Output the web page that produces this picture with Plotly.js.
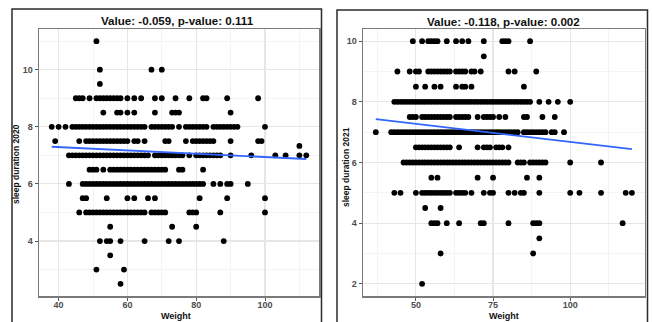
<!DOCTYPE html>
<html>
<head>
<meta charset="utf-8">
<script src="https://cdn.plot.ly/plotly-3.0.1.min.js"></script>
<style>html,body{margin:0;padding:0;background:#fff;}#chart{width:652px;height:322px;}</style>
</head>
<body>
<div id="chart"></div>
<script>
// ---- Panel 1: sleep duration 2020 vs Weight ----
const sleepLevels2020 = [11, 10, 9.5, 9, 8.5, 8, 7.5, 7.33, 7, 6.5, 6, 5.5, 5, 4.5, 4, 3.5, 3, 2.5];
const weightRows2020 = [
  [51],
  [52, 67, 70],
  [52],
  [45, 46, 47, 49, 51, 52, 53, 54, 55, 56, 57, 58, 60, 62, 64, 68, 70, 74, 78, 82, 83, 89, 98],
  [53, 57, 58, 60, 62, 68, 73, 74, 75, 90],
  [38, 40, 42, 44, 45, 46, 47, 48, 49, 50, 51, 52, 53, 54, 55, 56, 57, 58, 59, 60, 61, 62, 63, 64, 65, 67, 68, 69, 70, 71, 72, 73, 75, 77, 78, 79, 80, 81, 82, 83, 85, 86, 87, 88, 89, 90, 91, 92, 100],
  [39, 46, 48, 49, 50, 51, 52, 53, 54, 55, 56, 57, 58, 59, 60, 62, 63, 65, 71, 72, 77, 79, 80, 81, 82, 83, 84, 85, 90, 98, 99],
  [110],
  [43, 44, 45, 46, 47, 48, 49, 50, 51, 52, 53, 54, 55, 56, 57, 58, 59, 60, 61, 62, 63, 64, 65, 66, 68, 69, 70, 71, 72, 73, 74, 75, 76, 78, 80, 81, 82, 83, 84, 85, 86, 87, 90, 96, 103, 106, 110, 112],
  [49, 50, 51, 53, 55, 56, 57, 58, 59, 60, 61, 62, 63, 64, 65, 66, 67, 68, 69, 70, 71, 75, 76, 82],
  [43, 47, 48, 49, 50, 51, 52, 53, 54, 55, 56, 57, 58, 59, 60, 61, 62, 63, 64, 65, 66, 67, 68, 69, 70, 71, 72, 73, 74, 75, 76, 77, 78, 79, 80, 81, 82, 85, 87, 89, 90, 95],
  [47, 48, 54, 60, 62, 66, 68, 81, 89, 100],
  [46, 48, 49, 50, 51, 52, 53, 54, 55, 56, 57, 58, 59, 60, 61, 62, 63, 64, 65, 67, 68, 69, 70, 71, 78, 79, 80, 87, 100],
  [55, 73, 80],
  [52, 54, 55, 58, 65, 72, 75, 88],
  [55],
  [51, 59],
  [58]
];
const fitWeight2020 = [38, 112];
const fitSleep2020 = [7.30, 6.87];
const xTicks2020 = [40, 60, 80, 100];
const yTicks2020 = [4, 6, 8, 10];

// ---- Panel 2: sleep duration 2021 vs Weight ----
const sleepLevels2021 = [10, 9.5, 9, 8.5, 8, 7.5, 7, 6.5, 6, 5.5, 5, 4.5, 4, 3.5, 3, 2];
const weightRows2021 = [
  [49, 52, 54, 55, 56, 57, 60, 63, 65, 67, 72, 78, 79, 80, 87],
  [72],
  [44, 48, 50, 51, 54, 55, 56, 57, 58, 59, 60, 61, 63, 64, 65, 66, 68, 69, 71, 80, 82, 89],
  [50, 53, 56, 58, 63, 65, 66, 68, 85],
  [43, 44, 45, 46, 47, 48, 49, 50, 51, 52, 53, 54, 55, 56, 57, 58, 59, 60, 61, 62, 63, 64, 65, 66, 67, 68, 69, 70, 71, 72, 73, 74, 75, 76, 77, 78, 79, 80, 81, 82, 83, 84, 85, 86, 87, 90, 93, 96, 100],
  [48, 49, 50, 52, 53, 54, 55, 56, 57, 58, 59, 60, 61, 63, 64, 65, 66, 67, 70, 72, 73, 74, 75, 77, 79, 85, 86, 91, 95],
  [37, 42, 43, 44, 45, 46, 47, 48, 49, 50, 51, 52, 53, 54, 55, 56, 57, 58, 59, 60, 61, 62, 63, 64, 65, 66, 67, 68, 69, 70, 71, 72, 73, 74, 75, 76, 77, 78, 79, 80, 81, 82, 83, 85, 86, 87, 88, 89, 90, 91, 92, 94, 95, 98],
  [50, 51, 52, 53, 54, 55, 56, 57, 58, 59, 60, 61, 64, 70, 72, 73, 74, 76, 77, 78, 80],
  [46, 47, 48, 49, 50, 51, 52, 53, 54, 55, 56, 57, 58, 59, 60, 61, 62, 63, 64, 65, 66, 67, 68, 69, 70, 71, 72, 73, 74, 75, 76, 77, 78, 79, 80, 83, 84, 85, 87, 88, 89, 90, 91, 92, 100, 110],
  [55, 57, 70, 75, 86, 90],
  [43, 45, 50, 52, 53, 54, 55, 56, 57, 58, 59, 60, 61, 63, 64, 65, 66, 68, 72, 74, 75, 80, 82, 84, 85, 90, 100, 103, 110, 118, 120],
  [53, 58],
  [55, 56, 57, 60, 64, 71, 72, 80, 88, 89, 90, 117],
  [90],
  [58, 88],
  [52]
];
const fitWeight2021 = [37, 120];
const fitSleep2021 = [7.43, 6.44];
const xTicks2021 = [50, 75, 100];
const yTicks2021 = [2, 4, 6, 8, 10];

const titles = ['Value: -0.059, p-value: 0.111', 'Value: -0.118, p-value: 0.002'];
const yTitles = ['sleep duration 2020', 'sleep duration 2021'];
const xTitle = 'Weight';

function flatten(levels, rows) {
  const xs = [], ys = [];
  rows.forEach((r, i) => r.forEach(w => { xs.push(w); ys.push(levels[i]); }));
  return {xs, ys};
}
const p1 = flatten(sleepLevels2020, weightRows2020);
const p2 = flatten(sleepLevels2021, weightRows2021);

const W = 652, H = 322;
const px = v => v / W, py = v => (H - v) / H;

const markerStyle = {color: '#000000', size: 5.8};
const lineStyle = {color: '#3366FF', width: 1.9};

const traces = [
  {x: p1.xs, y: p1.ys, type: 'scatter', mode: 'markers', marker: markerStyle, xaxis: 'x', yaxis: 'y', hoverinfo: 'skip'},
  {x: fitWeight2020, y: fitSleep2020, type: 'scatter', mode: 'lines', line: lineStyle, xaxis: 'x', yaxis: 'y'},
  {x: p2.xs, y: p2.ys, type: 'scatter', mode: 'markers', marker: markerStyle, xaxis: 'x2', yaxis: 'y2', hoverinfo: 'skip'},
  {x: fitWeight2021, y: fitSleep2021, type: 'scatter', mode: 'lines', line: lineStyle, xaxis: 'x2', yaxis: 'y2'}
];

const FONT = 'Liberation Sans, Arial, sans-serif';
const tickFont = {family: FONT, size: 9, color: '#4d4d4d', weight: 700};
function axis(domain, range, tickvals, minorDtick, minorTick0, anchor, standoff) {
  return {
    domain: domain, range: range, anchor: anchor, autorange: false,
    tickmode: 'array', tickvals: tickvals, ticktext: tickvals.map(String),
    showgrid: true, gridcolor: '#e6e6e6', gridwidth: 1.1,
    minor: {showgrid: true, gridcolor: '#efefef', gridwidth: 0.7, dtick: minorDtick, tick0: minorTick0, ticks: ''},
    zeroline: false, showline: true, mirror: true, linecolor: '#7a7a7a', linewidth: 1.5,
    ticks: 'outside', ticklen: 3, tickwidth: 1, tickcolor: '#555',
    ticklabelstandoff: standoff,
    tickfont: tickFont, automargin: false, fixedrange: true
  };
}

const yDom = [py(296), py(29)];
const layout = {
  width: W, height: H,
  margin: {l: 0, r: 0, t: 0, b: 0},
  paper_bgcolor: '#ffffff', plot_bgcolor: '#ffffff',
  showlegend: false,
  xaxis: axis([px(39), px(319)], [34.3, 115.7], xTicks2020, 10, 0, 'y', -3),
  yaxis: axis(yDom, [2.075, 11.425], yTicks2020, 1, 0, 'x', 0),
  xaxis2: axis([px(363), px(644.7)], [32.85, 124.15], xTicks2021, 12.5, 0, 'y2', -3),
  yaxis2: axis(yDom, [1.6, 10.4], yTicks2021, 1, 0, 'x2', 0),
  shapes: [
    {type: 'rect', xref: 'paper', yref: 'paper', x0: px(12), x1: px(321.5), y0: -0.1, y1: py(9), line: {color: '#2b2b2b', width: 1.5}, fillcolor: 'rgba(0,0,0,0)', layer: 'below'},
    {type: 'rect', xref: 'paper', yref: 'paper', x0: px(337), x1: px(647.5), y0: -0.1, y1: py(10), line: {color: '#2b2b2b', width: 1.5}, fillcolor: 'rgba(0,0,0,0)', layer: 'below'}
  ],
  annotations: [
    {text: titles[0], xref: 'paper', yref: 'paper', x: px(177), y: py(20.7), showarrow: false, xanchor: 'center', yanchor: 'middle', font: {family: FONT, size: 11.6, color: '#111', weight: 700}},
    {text: titles[1], xref: 'paper', yref: 'paper', x: px(503.7), y: py(21.7), showarrow: false, xanchor: 'center', yanchor: 'middle', font: {family: FONT, size: 11.6, color: '#111', weight: 700}},
    {text: xTitle, xref: 'paper', yref: 'paper', x: px(176), y: py(315.5), showarrow: false, xanchor: 'center', yanchor: 'middle', font: {family: FONT, size: 9, color: '#111', weight: 700}},
    {text: xTitle, xref: 'paper', yref: 'paper', x: px(503.7), y: py(315.5), showarrow: false, xanchor: 'center', yanchor: 'middle', font: {family: FONT, size: 9, color: '#111', weight: 700}},
    {text: yTitles[0], xref: 'paper', yref: 'paper', x: px(16), y: py(164), textangle: -90, showarrow: false, xanchor: 'center', yanchor: 'middle', font: {family: FONT, size: 8.5, color: '#111', weight: 700}},
    {text: yTitles[1], xref: 'paper', yref: 'paper', x: px(345.3), y: py(166.7), textangle: -90, showarrow: false, xanchor: 'center', yanchor: 'middle', font: {family: FONT, size: 8.5, color: '#111', weight: 700}}
  ]
};

Plotly.newPlot('chart', traces, layout, {staticPlot: true, displayModeBar: false});
</script>
</body>
</html>
